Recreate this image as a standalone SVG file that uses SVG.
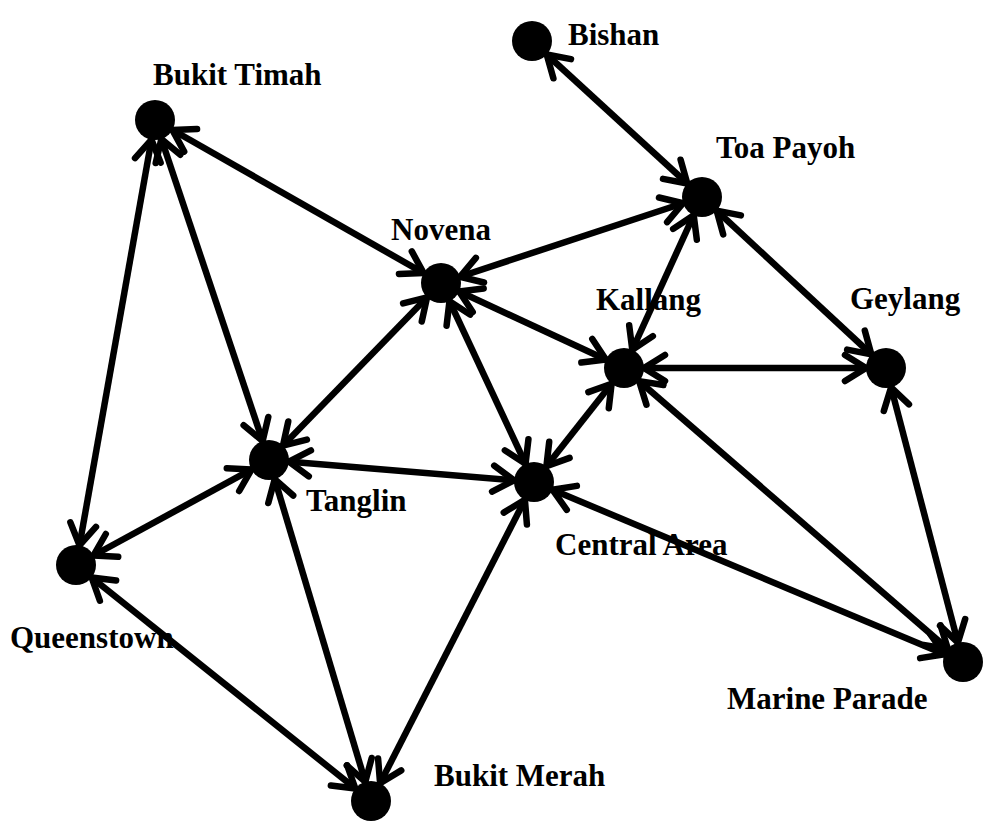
<svg xmlns="http://www.w3.org/2000/svg" width="1000" height="840" viewBox="0 0 1000 840">
<style>
.e{stroke:#000;stroke-width:6.5;fill:none;marker-start:url(#ah);marker-end:url(#ah)}
.n{fill:#000}
.t{font-family:"Liberation Serif","Times New Roman",serif;font-weight:bold;font-size:31px;fill:#000}
</style>
<defs>
<marker id="ah" markerUnits="userSpaceOnUse" orient="auto-start-reverse" refX="0" refY="0" markerWidth="100" markerHeight="100" viewBox="-50 -50 100 100" overflow="visible">
<path d="M -41,-13 L -20,0 L -41,13" fill="none" stroke="#000" stroke-width="6.5" stroke-linecap="round" stroke-linejoin="round"/>
</marker>
</defs>
<rect width="1000" height="840" fill="#fff"/>
<g id="connectors">
<line class="e" x1="532" y1="41" x2="702" y2="197"/>
<line class="e" x1="155" y1="120" x2="441" y2="283"/>
<line class="e" x1="155" y1="120" x2="269" y2="460"/>
<line class="e" x1="155" y1="120" x2="76" y2="565"/>
<line class="e" x1="702" y1="197" x2="441" y2="283"/>
<line class="e" x1="702" y1="197" x2="624" y2="368"/>
<line class="e" x1="702" y1="197" x2="886" y2="368"/>
<line class="e" x1="441" y1="283" x2="624" y2="368"/>
<line class="e" x1="441" y1="283" x2="269" y2="460"/>
<line class="e" x1="441" y1="283" x2="534" y2="482"/>
<line class="e" x1="624" y1="368" x2="886" y2="368"/>
<line class="e" x1="624" y1="368" x2="534" y2="482"/>
<line class="e" x1="624" y1="368" x2="963" y2="662"/>
<line class="e" x1="886" y1="368" x2="963" y2="662"/>
<line class="e" x1="269" y1="460" x2="534" y2="482"/>
<line class="e" x1="269" y1="460" x2="76" y2="565"/>
<line class="e" x1="269" y1="460" x2="371" y2="801"/>
<line class="e" x1="534" y1="482" x2="963" y2="662"/>
<line class="e" x1="534" y1="482" x2="371" y2="801"/>
<line class="e" x1="76" y1="565" x2="371" y2="801"/>
</g>
<g id="bishan"><circle class="n" cx="532" cy="41" r="20"/><text class="t" x="568" y="45">Bishan</text></g>
<g id="bukit-timah"><circle class="n" cx="155" cy="120" r="20"/><text class="t" x="153" y="85">Bukit Timah</text></g>
<g id="toa-payoh"><circle class="n" cx="702" cy="197" r="20"/><text class="t" x="716" y="158">Toa Payoh</text></g>
<g id="novena"><circle class="n" cx="441" cy="283" r="20"/><text class="t" x="391" y="240">Novena</text></g>
<g id="kallang"><circle class="n" cx="624" cy="368" r="20"/><text class="t" x="596" y="310">Kallang</text></g>
<g id="geylang"><circle class="n" cx="886" cy="368" r="20"/><text class="t" x="850" y="309">Geylang</text></g>
<g id="tanglin"><circle class="n" cx="269" cy="460" r="20"/><text class="t" x="306" y="511">Tanglin</text></g>
<g id="central-area"><circle class="n" cx="534" cy="482" r="20"/><text class="t" x="555" y="555">Central Area</text></g>
<g id="queenstown"><circle class="n" cx="76" cy="565" r="20"/><text class="t" x="10" y="648">Queenstown</text></g>
<g id="marine-parade"><circle class="n" cx="963" cy="662" r="20"/><text class="t" x="727" y="709">Marine Parade</text></g>
<g id="bukit-merah"><circle class="n" cx="371" cy="801" r="20"/><text class="t" x="434" y="786">Bukit Merah</text></g>
</svg>
